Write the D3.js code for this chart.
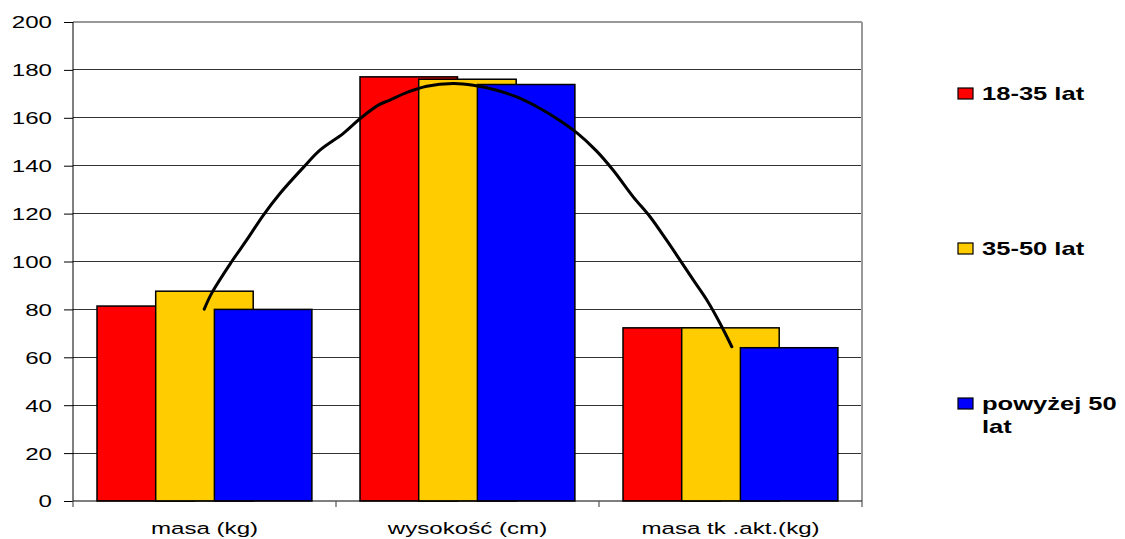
<!DOCTYPE html>
<html>
<head>
<meta charset="utf-8">
<script src="https://cdn.jsdelivr.net/npm/d3@7"></script>
<style>
  html, body { margin: 0; padding: 0; background: #fff; }
  svg { display: block; }
  text { font-family: "Liberation Sans", Arial, sans-serif; fill: #000; }
</style>
</head>
<body>
<svg id="chart" width="1125" height="539"></svg>
<script>
// Categories and series
const categories = ["masa (kg)", "wysokość (cm)", "masa tk .akt.(kg)"];
const seriesNames = ["18-35 lat", "35-50 lat", "powyżej 50 lat"];
const seriesColors = ["#ff0000", "#ffcc00", "#0000ff"];
const values1835 = [81.4, 177.1, 72.3];
const values3550 = [87.6, 176.1, 72.3];
const valuesOver50 = [80.0, 173.9, 64.0];
const yTicks = [0, 20, 40, 60, 80, 100, 120, 140, 160, 180, 200];

// Hand-drawn trend curve: position along the category axis (0..3) and value
const curveX = [0.499, 0.527, 0.603, 0.660, 0.724, 0.787, 0.876, 0.939, 1.028, 1.091,
                1.161, 1.205, 1.275, 1.345, 1.446, 1.522, 1.611, 1.687, 1.776, 1.852,
                1.915, 1.991, 2.054, 2.130, 2.194, 2.257, 2.308, 2.359, 2.410, 2.460, 2.505];
const curveV = [80.1, 86.7, 99.9, 108.9, 119.4, 128.4, 139.3, 146.5, 153.5, 159.6,
                165.3, 167.4, 170.8, 173.2, 174.3, 173.6, 171.5, 168.7, 163.9, 158.8,
                153.8, 146.1, 138.1, 127.0, 118.7, 108.9, 100.6, 92.2, 83.9, 74.2, 64.4];

const seriesValues = [values1835, values3550, valuesOver50];

const svg = d3.select("#chart");
const plot = { left: 73, right: 862, top: 22, bottom: 501 };
const sx = 1.42; // horizontal stretch of the lettering

const x0 = d3.scaleBand().domain(categories).range([plot.left, plot.right]).padding(0);
const inset = 24, step = 58.7, barW = 97.5;
const x1 = d3.scalePoint().domain(seriesNames).range([inset, inset + 2 * step]);
const y = d3.scaleLinear().domain([0, 200]).range([plot.bottom, plot.top]);
const xc = d3.scaleLinear().domain([0, 3]).range([plot.left, plot.right]);

// Gridlines
svg.append("g").selectAll("line")
  .data(yTicks.filter(t => t > 0))
  .join("line")
  .attr("x1", plot.left).attr("x2", plot.right)
  .attr("y1", d => y(d)).attr("y2", d => y(d))
  .attr("stroke", d => d === 200 ? "#999" : "#333")
  .attr("stroke-width", d => d === 200 ? 1.5 : 1)
  .attr("shape-rendering", "crispEdges");

// Right border of the plot area
svg.append("line")
  .attr("x1", plot.right).attr("x2", plot.right)
  .attr("y1", plot.top).attr("y2", plot.bottom)
  .attr("stroke", "#999").attr("stroke-width", 2);

// Y axis
const yAxis = svg.append("g")
  .attr("transform", `translate(${plot.left},0)`)
  .call(d3.axisLeft(y).tickValues(yTicks).tickSize(9).tickFormat(d3.format("d")));
yAxis.select(".domain").attr("stroke", "#000").attr("d", `M0,${plot.top}V${plot.bottom}`);
yAxis.selectAll(".tick line").attr("stroke", "#000");
yAxis.selectAll(".tick text").remove();
yAxis.selectAll(".tick").append("g")
  .attr("transform", `translate(-21,0) scale(${sx},1)`)
  .append("text")
  .attr("text-anchor", "end")
  .attr("dy", "0.35em")
  .attr("font-size", 17)
  .text(d => d);

// Bars: series drawn in order so each overlaps the previous one
seriesNames.forEach((name, si) => {
  svg.append("g").selectAll("rect")
    .data(categories.map((c, ci) => ({ c, v: seriesValues[si][ci] })))
    .join("rect")
    .attr("x", d => x0(d.c) + x1(name))
    .attr("y", d => y(d.v))
    .attr("width", barW)
    .attr("height", d => y(0) - y(d.v))
    .attr("fill", seriesColors[si])
    .attr("stroke", "#000")
    .attr("stroke-width", 1.5);
});

// X axis line and ticks at category boundaries
svg.append("line")
  .attr("x1", plot.left).attr("x2", plot.right)
  .attr("y1", plot.bottom).attr("y2", plot.bottom)
  .attr("stroke", "#000").attr("stroke-width", 1.2);
const bounds = categories.map(c => x0(c)).concat([plot.right]);
svg.append("g").selectAll("line")
  .data(bounds)
  .join("line")
  .attr("x1", d => d).attr("x2", d => d)
  .attr("y1", plot.bottom).attr("y2", plot.bottom + 6)
  .attr("stroke", "#555").attr("stroke-width", 1.2);

// Category labels
svg.append("g").selectAll("g")
  .data(categories)
  .join("g")
  .attr("transform", d => `translate(${x0(d) + x0.bandwidth() / 2},534) scale(${sx},1)`)
  .append("text")
  .attr("text-anchor", "middle")
  .attr("font-size", 17)
  .text(d => d);

// Trend curve
const line = d3.line()
  .x((d, i) => xc(curveX[i]))
  .y(d => y(d))
  .curve(d3.curveCatmullRom);
svg.append("path")
  .attr("d", line(curveV))
  .attr("fill", "none")
  .attr("stroke", "#000")
  .attr("stroke-width", 3)
  .attr("stroke-linecap", "round")
  .attr("stroke-linejoin", "round");

// Legend
const legendTops = [88, 243, 398];
const legend = svg.append("g");
seriesNames.forEach((name, i) => {
  const g = legend.append("g").attr("transform", `translate(958,${legendTops[i]})`);
  g.append("rect")
    .attr("width", 15).attr("height", 11)
    .attr("fill", seriesColors[i])
    .attr("stroke", "#000").attr("stroke-width", 1.2);
  const lines = name === "powyżej 50 lat" ? ["powyżej 50", "lat"] : [name];
  lines.forEach((t, li) => {
    g.append("g")
      .attr("transform", `translate(24,${11.5 + li * 23.5}) scale(1.46,1)`)
      .append("text")
      .attr("font-size", 17.5)
      .attr("font-weight", "bold")
      .text(t);
  });
});
</script>
</body>
</html>
